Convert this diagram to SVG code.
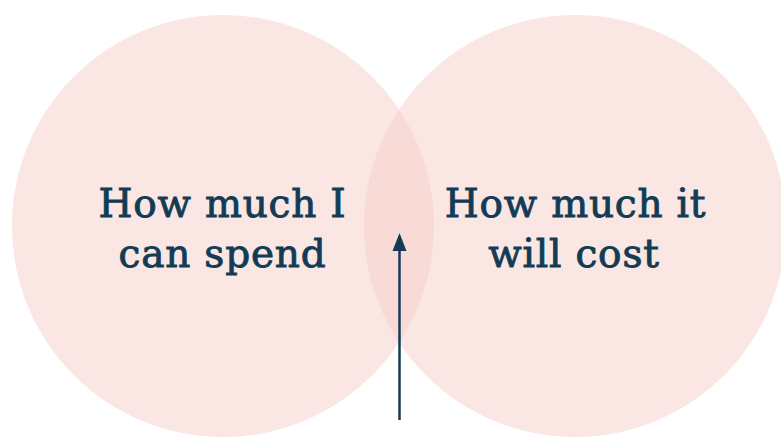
<svg xmlns="http://www.w3.org/2000/svg" width="781" height="437" viewBox="0 0 781 437">
<style>
.c{fill:#f6d2cc;fill-opacity:0.55}
.t{font-family:"DejaVu Serif","Liberation Serif",serif;font-size:39px;letter-spacing:0.8px;fill:#123c55;stroke:#123c55;stroke-width:0.9px;text-anchor:middle}
</style>
<rect width="781" height="437" fill="#ffffff"/>
<g id="left">
<circle class="c" cx="223" cy="226" r="211"/>
<text class="t" x="222.5" y="217">How much I</text>
<text class="t" x="222.5" y="267">can spend</text>
</g>
<g id="right">
<circle class="c" cx="575" cy="226" r="211"/>
<text class="t" x="575.5" y="217">How much it</text>
<text class="t" x="574" y="267">will cost</text>
</g>
<g id="connectors">
<line x1="399.5" y1="420" x2="399.5" y2="250" stroke="#123c55" stroke-width="2.5"/>
<path d="M392.5,251 L399.5,233 L406.5,251 Z" fill="#123c55"/>
</g>
</svg>
